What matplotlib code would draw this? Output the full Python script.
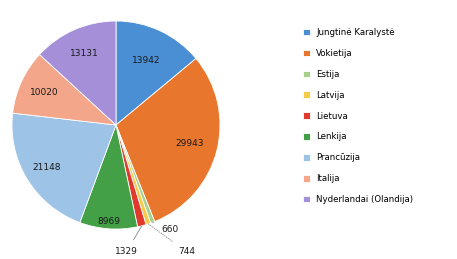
import numpy as np
import matplotlib.pyplot as plt

# Data
countries = ["Jungtinė Karalystė", "Vokietija", "Estija", "Latvija", "Lietuva",
             "Lenkija", "Prancūzija", "Italija", "Nyderlandai (Olandija)"]
values = [13942, 29943, 660, 744, 1329, 8969, 21148, 10020, 13131]
colors = ["#4a8fd4", "#e8762c", "#a8d08d", "#f5cc4a", "#e03a2c",
          "#43a047", "#9dc3e6", "#f4a68a", "#a58fd8"]

# label placement (fraction of radius) for the big slices
label_r = [0.68, 0.73, None, None, None, 0.93, 0.78, 0.76, 0.75]

fig = plt.figure(figsize=(4.57, 2.59), dpi=100)
ax = fig.add_axes([0, 0, 240 / 457, 1])

wedges, _ = ax.pie(values, colors=colors, startangle=90, counterclock=False,
                   radius=1.0, wedgeprops=dict(edgecolor="white", linewidth=0.6))
ax.set_xlim(-1.115, 1.192)
ax.set_ylim(-1.288, 1.202)
ax.set_aspect("auto")
ax.axis("off")

for w, v, r in zip(wedges, values, label_r):
    if r is None:
        continue
    ang = np.deg2rad((w.theta1 + w.theta2) / 2)
    ax.text(r * np.cos(ang), r * np.sin(ang), str(v), ha="center", va="center",
            fontsize=6.5, color="#1a1a1a")

# small slices with leader lines
def small_label(i, xy_text, ls="-"):
    w = wedges[i]
    ang = np.deg2rad((w.theta1 + w.theta2) / 2)
    ax.annotate(str(values[i]), xy=(np.cos(ang), np.sin(ang)), xytext=xy_text,
                ha="center", va="center", fontsize=6.5, color="#1a1a1a",
                annotation_clip=False,
                arrowprops=dict(arrowstyle="-", color="#888888", lw=0.6, ls=ls,
                                shrinkA=4, shrinkB=0))

small_label(2, (0.52, -1.0), ls=":")
small_label(3, (0.68, -1.22), ls=":")
small_label(4, (0.10, -1.22))

fig.legend(wedges, countries, loc="upper left", bbox_to_anchor=(300 / 457, 0.905),
           frameon=False, fontsize=6.2, handlelength=0.8, handleheight=0.8,
           handletextpad=0.7, labelspacing=1.38, borderaxespad=0)

fig.savefig("out.png", dpi=100)
